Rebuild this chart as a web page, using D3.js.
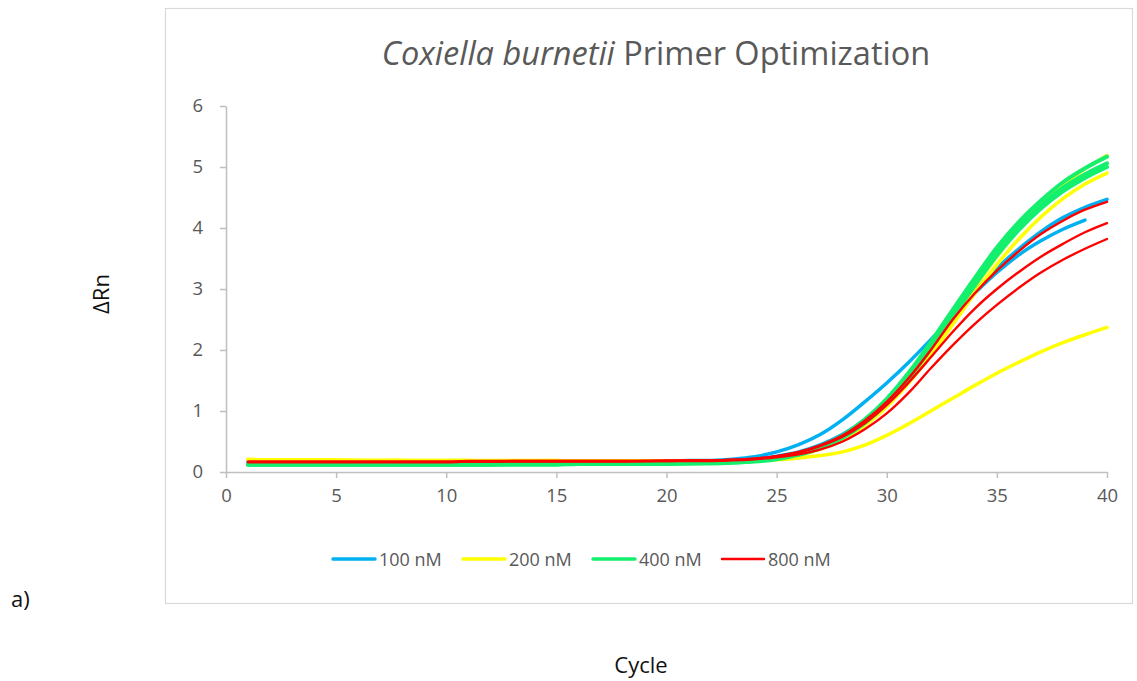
<!DOCTYPE html>
<html><head><meta charset="utf-8">
<script src="https://cdn.jsdelivr.net/npm/d3@7"></script>
<style>body{margin:0;background:#fff;} svg{display:block;}</style>
</head><body>
<svg id="chart" width="1137" height="681"></svg>
<script>
const xTicks = [0,5,10,15,20,25,30,35,40];
const yTicks = [0,1,2,3,4,5,6];
const seriesNames = ["100 nM","200 nM","400 nM","800 nM"];
const seriesColors = ["#00b0f0","#ffff00","#14f06e","#ff0000"];

const c100a = [0.17,0.17,0.17,0.17,0.17,0.17,0.17,0.17,0.17,0.17,
0.17,0.17,0.17,0.17,0.17,0.17,0.18,0.18,0.18,0.18,
0.19,0.19,0.21,0.25,0.33,0.45,0.62,0.86,1.15,1.46,
1.8,2.17,2.55,2.93,3.27,3.56,3.79,3.98,4.13];
const c100b = [0.16,0.16,0.16,0.16,0.16,0.16,0.16,0.16,0.16,0.16,
0.16,0.16,0.16,0.17,0.17,0.17,0.17,0.17,0.17,0.17,
0.18,0.18,0.19,0.21,0.26,0.33,0.45,0.62,0.86,1.18,
1.58,2.04,2.52,2.96,3.34,3.66,3.94,4.17,4.34,4.47];
const c200a = [0.21,0.2,0.2,0.2,0.2,0.19,0.19,0.19,0.19,0.19,
0.19,0.19,0.19,0.19,0.19,0.18,0.18,0.18,0.18,0.18,
0.18,0.17,0.17,0.19,0.22,0.28,0.38,0.54,0.78,1.1,
1.5,1.98,2.5,3.03,3.53,3.98,4.37,4.7,4.97,5.19];
const c200b = [0.2,0.2,0.2,0.19,0.19,0.19,0.19,0.19,0.19,0.19,
0.19,0.18,0.18,0.18,0.18,0.18,0.18,0.18,0.18,0.18,
0.17,0.17,0.17,0.19,0.22,0.28,0.38,0.53,0.76,1.07,
1.46,1.92,2.42,2.93,3.4,3.82,4.18,4.48,4.72,4.9];
const c200c = [0.2,0.2,0.2,0.19,0.19,0.19,0.19,0.19,0.18,0.18,
0.18,0.18,0.18,0.18,0.18,0.18,0.18,0.18,0.18,0.18,
0.18,0.18,0.18,0.19,0.2,0.23,0.27,0.33,0.44,0.6,
0.79,1.0,1.21,1.42,1.62,1.8,1.97,2.12,2.25,2.37];
const c400a = [0.13,0.13,0.13,0.13,0.13,0.13,0.13,0.13,0.13,0.13,
0.13,0.13,0.13,0.13,0.14,0.14,0.14,0.14,0.14,0.14,
0.15,0.15,0.16,0.18,0.22,0.3,0.42,0.6,0.86,1.2,
1.63,2.13,2.66,3.18,3.68,4.1,4.45,4.75,4.98,5.17];
const c400b = [0.12,0.12,0.12,0.12,0.12,0.12,0.12,0.12,0.12,0.12,
0.12,0.12,0.13,0.13,0.13,0.13,0.13,0.13,0.13,0.14,
0.14,0.15,0.16,0.18,0.22,0.29,0.41,0.58,0.83,1.16,
1.58,2.07,2.6,3.12,3.6,4.02,4.37,4.66,4.88,5.06];
const c400c = [0.12,0.12,0.12,0.12,0.12,0.12,0.12,0.12,0.12,0.12,
0.12,0.12,0.12,0.12,0.12,0.13,0.13,0.13,0.13,0.13,
0.14,0.14,0.15,0.17,0.21,0.28,0.39,0.56,0.8,1.12,
1.53,2.02,2.54,3.06,3.55,3.97,4.32,4.6,4.82,5.0];
const c800a = [0.17,0.17,0.17,0.17,0.17,0.17,0.17,0.17,0.17,0.17,
0.18,0.18,0.18,0.18,0.18,0.18,0.18,0.18,0.18,0.19,
0.19,0.19,0.2,0.22,0.26,0.33,0.44,0.6,0.84,1.15,
1.54,2.0,2.5,2.93,3.3,3.62,3.9,4.12,4.3,4.43];
const c800b = [0.17,0.17,0.17,0.17,0.17,0.17,0.17,0.17,0.17,0.17,
0.17,0.17,0.18,0.18,0.18,0.18,0.18,0.18,0.18,0.18,
0.19,0.19,0.2,0.22,0.26,0.32,0.43,0.58,0.8,1.1,
1.47,1.88,2.3,2.68,3.0,3.28,3.53,3.74,3.93,4.08];
const c800c = [0.16,0.16,0.16,0.16,0.16,0.16,0.16,0.16,0.16,0.16,
0.17,0.17,0.17,0.17,0.17,0.17,0.17,0.17,0.18,0.18,
0.18,0.18,0.19,0.21,0.24,0.29,0.37,0.5,0.7,0.96,
1.3,1.7,2.08,2.43,2.74,3.02,3.27,3.48,3.66,3.82];

const replicates = [
  {s:0, v:c100a},{s:0, v:c100b},
  {s:1, v:c200a},{s:1, v:c200b},{s:1, v:c200c},
  {s:2, v:c400a},{s:2, v:c400b},{s:2, v:c400c},
  {s:3, v:c800a},{s:3, v:c800b},{s:3, v:c800c}
];
const widths = [3.5,3.5,4.0,2.4];

const svg = d3.select("#chart");
const font = "'Open Sans', sans-serif";
const grey = "#595959";

// frame
svg.append("rect").attr("x",165.5).attr("y",8.5).attr("width",967).attr("height",595)
  .attr("fill","#fff").attr("stroke","#d9d9d9").attr("stroke-width",1.2);

const x = d3.scaleLinear().domain([0,40]).range([226,1107]);
const y = d3.scaleLinear().domain([0,6]).range([472,106]);

// axes
const xAxis = d3.axisBottom(x).tickValues(xTicks).tickFormat(d3.format("d")).tickSize(6).tickSizeOuter(0).tickPadding(11);
const gx = svg.append("g").attr("transform","translate(0,472)").call(xAxis);
const yAxis = d3.axisLeft(y).tickValues(yTicks).tickFormat(d3.format("d")).tickSize(6).tickSizeOuter(0).tickPadding(17);
const gy = svg.append("g").attr("transform","translate(226,0)").call(yAxis);
[gx,gy].forEach(g=>{
  g.select(".domain").attr("stroke","#bfbfbf").attr("stroke-width",1.5);
  g.selectAll(".tick line").attr("stroke","#bfbfbf").attr("stroke-width",1.5);
  g.selectAll(".tick text").attr("fill",grey).attr("font-family",font).attr("font-size",18.5);
});

// lines
const line = d3.line().x((d,i)=>x(i+1)).y(d=>y(d)).curve(d3.curveCatmullRom.alpha(0.5));
svg.append("g").selectAll("path").data(replicates).join("path")
  .attr("d",d=>line(d.v)).attr("fill","none")
  .attr("stroke",d=>seriesColors[d.s]).attr("stroke-width",d=>widths[d.s])
  .attr("stroke-linecap","round").attr("stroke-linejoin","round");

// title
const t = svg.append("text").attr("x",656).attr("y",65).attr("text-anchor","middle")
  .attr("font-family",font).attr("font-size",32.5).attr("fill",grey);
t.append("tspan").attr("font-style","italic").text("Coxiella burnetii");
t.append("tspan").text(" Primer Optimization");

// legend
const legX = [333,463,593,722];
const lg = svg.append("g").selectAll("g").data(seriesNames).join("g")
  .attr("transform",(d,i)=>`translate(${legX[i]},559)`);
lg.append("line").attr("x1",0).attr("x2",42).attr("y1",0).attr("y2",0)
  .attr("stroke",(d,i)=>seriesColors[i]).attr("stroke-width",(d,i)=>i===3?2.4:3.5)
  .attr("stroke-linecap","round");
lg.append("text").attr("x",46).attr("y",6.5).attr("font-family",font).attr("font-size",18)
  .attr("fill",grey).text(d=>d);

// axis titles
svg.append("text").attr("transform","translate(109,294) rotate(-90)").attr("text-anchor","middle")
  .attr("font-family",font).attr("font-size",22).attr("fill","#111").text("ΔRn");
svg.append("text").attr("x",641).attr("y",673).attr("text-anchor","middle")
  .attr("font-family",font).attr("font-size",22).attr("fill","#111").text("Cycle");
svg.append("text").attr("x",11).attr("y",607)
  .attr("font-family",font).attr("font-size",22).attr("fill","#111").text("a)");
</script>
</body></html>
